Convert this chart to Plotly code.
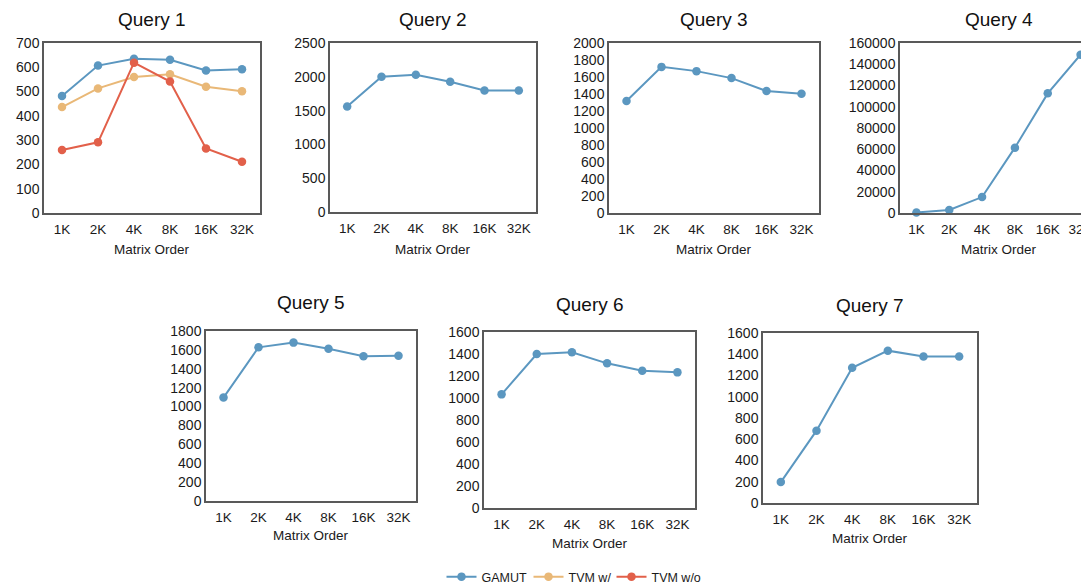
import plotly.graph_objects as go

# page body has an 8px margin, so the figure is placed at (8, 8)
OFF = 8
W, H = 1089 - OFF, 588 - OFF

categories = ["1K", "2K", "4K", "8K", "16K", "32K"]

q1_gamut = [482, 607, 635, 631, 587, 592]
q1_tvm_w = [436, 513, 560, 571, 520, 501]
q1_tvm_wo = [259, 291, 619, 541, 266, 211]
q2_gamut = [1559, 2000, 2030, 1926, 1797, 1797]
q3_gamut = [1318, 1719, 1669, 1587, 1435, 1404]
q4_gamut = [500, 2800, 15000, 61500, 112600, 149000]
q5_gamut = [1095, 1627, 1677, 1613, 1532, 1539]
q6_gamut = [1033, 1400, 1415, 1315, 1248, 1233]
q7_gamut = [197, 681, 1272, 1434, 1378, 1378]

titles = ["Query 1", "Query 2", "Query 3", "Query 4", "Query 5", "Query 6", "Query 7"]
y_maxes = [700, 2500, 2000, 160000, 1800, 1600, 1600]
y_steps = [100, 500, 200, 20000, 200, 200, 200]

BLUE = "#5B97C0"
ORANGE = "#E9B877"
RED = "#E2604A"
FONT = "Liberation Sans, Arial, sans-serif"

# plot boxes in page pixels: left, right, top, bottom
boxes = [
    (44, 260, 43, 213),
    (330, 536, 43, 212),
    (609, 819, 43, 213),
    (900, 1097, 43, 213),
    (206, 416, 331, 501),
    (484, 695, 332, 508),
    (763, 977, 333, 503),
]
title_y = [19.5, 19.5, 19.5, 19.5, 302, 304, 305]
xtitle_y = [249, 249, 249, 249, 535, 543, 538]
legend_widths = {"GAMUT": 42, "TVM w/": 38, "TVM w/o": 54}

fig = go.Figure()

series_sets = [
    [("GAMUT", q1_gamut, BLUE), ("TVM w/", q1_tvm_w, ORANGE), ("TVM w/o", q1_tvm_wo, RED)],
    [("GAMUT", q2_gamut, BLUE)],
    [("GAMUT", q3_gamut, BLUE)],
    [("GAMUT", q4_gamut, BLUE)],
    [("GAMUT", q5_gamut, BLUE)],
    [("GAMUT", q6_gamut, BLUE)],
    [("GAMUT", q7_gamut, BLUE)],
]


def px(xp):
    return (xp - OFF) / W


def py(yp):
    return 1 - (yp - OFF) / H


annotations = []
for i, (box, sers) in enumerate(zip(boxes, series_sets)):
    n = i + 1
    xa = "x" if n == 1 else f"x{n}"
    ya = "y" if n == 1 else f"y{n}"
    for name, vals, col in sers:
        fig.add_trace(go.Scatter(
            x=list(range(len(categories))), y=vals, name=name, mode="lines+markers",
            line=dict(color=col, width=2), marker=dict(color=col, size=8.5),
            xaxis=xa, yaxis=ya, showlegend=(i == 0), cliponaxis=False,
            legendwidth=legend_widths[name],
        ))
    l, r, t, b = box
    spacing = (r - l) / 6.0
    rr = min(r, W + OFF)
    x_hi = (rr - l) / spacing - 0.5
    clipped = r > W + OFF
    xkey = "xaxis" if n == 1 else f"xaxis{n}"
    ykey = "yaxis" if n == 1 else f"yaxis{n}"
    fig.layout[xkey] = dict(
        domain=[px(l), min(1, px(rr))], anchor=ya, range=[-0.5, x_hi],
        tickmode="array", tickvals=list(range(6)), ticktext=categories,
        showgrid=False, zeroline=False, showline=True, linecolor="#595959", linewidth=1.5,
        mirror=True, ticks="", ticklabelstandoff=3, automargin=False,
        ticklabeloverflow="allow",
        tickfont=dict(size=13.5, color="#1a1a1a", family=FONT),
        fixedrange=True,
    )
    fig.layout[ykey] = dict(
        domain=[py(b), py(t)], anchor=xa, range=[0, y_maxes[i]], dtick=y_steps[i], tick0=0,
        showgrid=False, zeroline=False, showline=True, linecolor="#595959", linewidth=1.5,
        mirror=(not clipped), ticks="", automargin=False,
        tickfont=dict(size=14, color="#1a1a1a", family=FONT),
        fixedrange=True, tickformat="d",
    )
    annotations.append(dict(
        text=titles[i], x=px((l + r) / 2), y=py(title_y[i]), xref="paper", yref="paper",
        showarrow=False, xanchor="center", yanchor="middle",
        font=dict(size=19, color="#111", family=FONT),
    ))
    annotations.append(dict(
        text="Matrix Order", x=px((l + r) / 2), y=py(xtitle_y[i]), xref="paper", yref="paper",
        showarrow=False, xanchor="center", yanchor="middle",
        font=dict(size=13.5, color="#1a1a1a", family=FONT),
    ))

fig.update_layout(
    width=W, height=H, margin=dict(l=0, r=0, t=0, b=0, autoexpand=False),
    paper_bgcolor="white", plot_bgcolor="white",
    annotations=annotations,
    legend=dict(orientation="h", x=px(576), xanchor="center", y=py(577), yanchor="middle",
                font=dict(size=12.5, color="#1a1a1a", family=FONT), itemwidth=30,
                entrywidthmode="pixels",
                tracegroupgap=0, bgcolor="rgba(0,0,0,0)"),
    showlegend=True,
)

fig.write_html("out.html")
